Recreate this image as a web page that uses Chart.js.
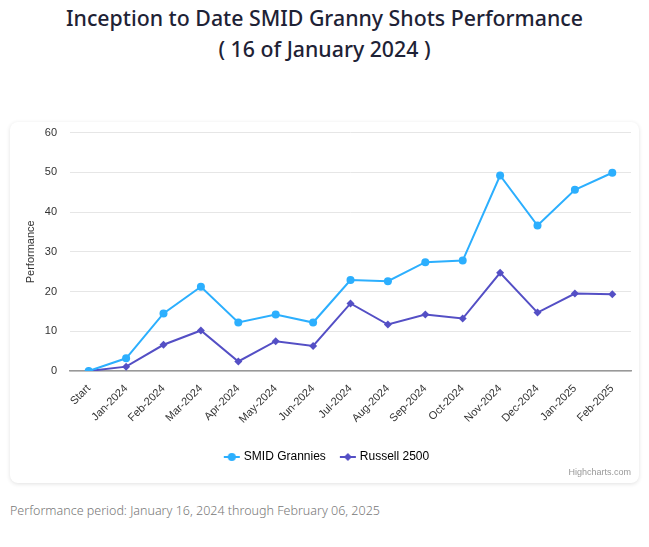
<!DOCTYPE html>
<html>
<head>
<meta charset="utf-8">
<script src="https://cdn.jsdelivr.net/npm/chart.js@4"></script>
<style>
  body{margin:0;background:#fff;font-family:"Noto Sans",sans-serif;}
  .title{position:absolute;left:0;width:649px;text-align:center;color:#1e2235;font-family:"Noto Sans",sans-serif;font-weight:500;font-size:21.3px;}
  .card{position:absolute;left:10px;top:122px;width:629px;height:361px;border-radius:8px;box-shadow:0 1px 4px rgba(0,0,0,0.12);background:#fff;}
  .card canvas{position:absolute;left:0;top:-9px;}
  .credit{position:absolute;right:8px;bottom:6px;font-family:"Liberation Sans",Arial,sans-serif;font-size:9px;color:#999;}
  .foot{position:absolute;left:10px;top:502px;font-family:"Noto Sans",sans-serif;font-size:12.5px;color:#777;font-weight:300;}
</style>
</head>
<body>
<div class="title" style="top:3px">Inception to Date SMID Granny Shots Performance</div>
<div class="title" style="top:34px">( 16 of January 2024 )</div>
<div class="card">
  <canvas id="myChart" width="629" height="370"></canvas>
  <div class="credit">Highcharts.com</div>
</div>
<div class="foot">Performance period: January 16, 2024 through February 06, 2025</div>
<script>
// chart data
const months = ['Start','Jan-2024','Feb-2024','Mar-2024','Apr-2024','May-2024','Jun-2024','Jul-2024',
    'Aug-2024','Sep-2024','Oct-2024','Nov-2024','Dec-2024','Jan-2025','Feb-2025'];
const smid_grannies = [0, 3.2, 14.5, 21.2, 12.2, 14.2, 12.2, 22.9, 22.6, 27.4, 27.8, 49.2, 36.6, 45.6, 49.9];
const russell_2500 = [0, 1.1, 6.6, 10.2, 2.4, 7.5, 6.3, 17.0, 11.7, 14.2, 13.2, 24.7, 14.7, 19.5, 19.3];
const y_ticks = [0, 10, 20, 30, 40, 50, 60];

const blue = '#2caffe'
const purple = '#544fc5'

// little legend symbols: line with marker on it
function legendSymbol(color, diamond){
    const c = document.createElement('canvas')
    c.width = 18; c.height = 12
    const g = c.getContext('2d')
    g.strokeStyle = color; g.lineWidth = 2
    g.beginPath(); g.moveTo(1,6); g.lineTo(17,6); g.stroke()
    g.fillStyle = color
    g.beginPath()
    if(diamond){ g.moveTo(9,2); g.lineTo(13,6); g.lineTo(9,10); g.lineTo(5,6); g.closePath() }
    else { g.arc(9,6,4,0,Math.PI*2) }
    g.fill()
    return c
}

const ctx = document.getElementById('myChart');
const myChart = new Chart(ctx, {
    type: 'line',
    data: {
        labels: months,
        datasets: [{
            label: 'SMID Grannies',
            data: smid_grannies,
            borderColor: blue,
            backgroundColor: blue,
            borderWidth: 2,
            pointStyle: 'circle',
            pointRadius: 4,
            pointBorderWidth: 0,
            tension: 0
        },{
            label: 'Russell 2500',
            data: russell_2500,
            borderColor: purple,
            backgroundColor: purple,
            borderWidth: 2,
            pointStyle: 'rectRot',
            pointRadius: 4,
            pointBorderWidth: 0,
            tension: 0
        }]
    },
    options: {
        responsive: false,
        animation: false,
        layout: { padding: { top: 1, right: 8, left: 14, bottom: 10 } },
        plugins: {
            tooltip: { enabled: false },
            legend: {
                position: 'bottom',
                labels: {
                    usePointStyle: true,
                    padding: 16,
                    color: '#333',
                    font: { family: '"Liberation Sans", Arial, sans-serif', size: 12 },
                    generateLabels: function(chart){
                        return chart.data.datasets.map((ds, i) => ({
                            text: ds.label,
                            fillStyle: ds.borderColor,
                            strokeStyle: ds.borderColor,
                            pointStyle: legendSymbol(ds.borderColor, i == 1),
                            lineWidth: 0,
                            hidden: false,
                            datasetIndex: i
                        }))
                    }
                }
            }
        },
        scales: {
            y: {
                min: 0,
                max: 60,
                afterBuildTicks: function(axis){ axis.ticks = y_ticks.map(v => ({ value: v })) },
                afterFit: function(axis){ axis.width = 46 },
                border: { display: false },
                grid: { color: '#e6e6e6', drawTicks: false },
                ticks: {
                    padding: 13,
                    color: '#333',
                    font: { family: '"Liberation Sans", Arial, sans-serif', size: 11 }
                },
                title: {
                    display: true,
                    text: 'Performance',
                    color: '#333',
                    padding: 0,
                    font: { family: '"Liberation Sans", Arial, sans-serif', size: 11 }
                }
            },
            x: {
                offset: true,
                afterFit: function(axis){ axis.height = 64 },
                border: { display: true, color: '#999', width: 1.5 },
                grid: { display: false },
                ticks: {
                    maxRotation: 45,
                    minRotation: 45,
                    autoSkip: false,
                    color: '#333',
                    font: { family: '"Liberation Sans", Arial, sans-serif', size: 11 }
                }
            }
        }
    }
});
</script>
</body>
</html>
